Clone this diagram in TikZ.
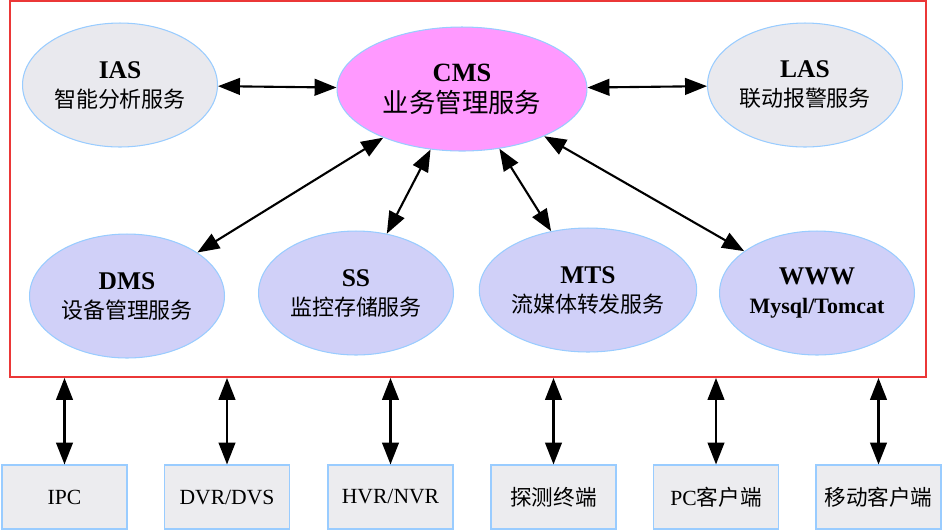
\documentclass[tikz,border=0pt]{standalone}
\usepackage{fontspec}
\setmainfont{Liberation Serif}
\newfontfamily\cjk{Noto Sans CJK SC}
\usepackage{xcolor}
\usepackage{tikz}
\usetikzlibrary{positioning,shapes,arrows.meta,calc}

\definecolor{svcgray}{RGB}{233,233,238}
\definecolor{svcblue}{RGB}{208,208,248}
\definecolor{svcpink}{RGB}{255,153,255}
\definecolor{edgeblue}{RGB}{153,204,255}
\definecolor{framered}{RGB}{235,55,55}
\definecolor{boxgray}{RGB}{236,236,239}

\newcommand{\svclabel}[2]{\textbf{#1}\\{\cjk\fontsize{12.5}{16.5}\selectfont #2}}

\begin{document}
\begin{tikzpicture}[x=0.02cm, y=-0.02cm,
    svc/.style={ellipse, draw=edgeblue, line width=0.6pt, minimum width=3.9cm, minimum height=2.48cm, align=center, inner sep=0pt, font=\fontsize{14.5}{16.5}\selectfont},
    dev/.style={rectangle, draw=edgeblue, fill=boxgray, line width=0.6pt, minimum width=2.5cm, minimum height=1.28cm, inner sep=0pt, font=\fontsize{12.3}{14}\selectfont},
    link/.style={{Triangle[length=12.5pt,width=9.5pt]}-{Triangle[length=12.5pt,width=9.5pt]}, line width=1.2pt}]
        \useasboundingbox (0,0) rectangle (950,529);

        % Frame
        \node[draw=framered, line width=1.1pt, minimum width=18.32cm, minimum height=7.52cm, inner sep=0pt] (sys) at (468,189) {};

        % Services
        \node[svc, fill=svcgray] (ias) at (120,85) {\svclabel{IAS}{智能分析服务}};
        \node[svc, fill=svcpink, minimum width=5cm, font=\fontsize{15}{17.5}\selectfont] (cms) at (462,89) {\textbf{CMS}\\{\cjk 业务管理服务}};
        \node[svc, fill=svcgray] (las) at (805,85) {\svclabel{LAS}{联动报警服务}};
        \node[svc, fill=svcblue] (dms) at (127,296) {\svclabel{DMS}{设备管理服务}};
        \node[svc, fill=svcblue] (ss) at (356,293) {\svclabel{SS}{监控存储服务}};
        \node[svc, fill=svcblue] (mts) at (588,290) {\svclabel{MTS}{流媒体转发服务}};
        \node[svc, fill=svcblue] (www) at (817,293) {\textbf{WWW}\\{\fontsize{12.5}{16.5}\selectfont\bfseries Mysql/Tomcat}};

        % Devices and clients
        \node[dev] (ipc) at (64.5,497) {IPC};
        \node[dev] (dvr) at (227,497) {DVR/DVS};
        \node[dev] (nvr) at (390.5,497) {HVR/NVR};
        \node[dev] (det) at (553.5,497) {\cjk 探测终端};
        \node[dev] (pc) at (716,497) {PC{\cjk 客户端}};
        \node[dev] (mob) at (878.5,497) {\cjk 移动客户端};

        % Links
        \draw[link] (ias) -- (cms);
        \draw[link] (cms) -- (las);
        \draw[link] (cms) -- (dms);
        \draw[link] (cms) -- (ss);
        \draw[link] (cms) -- (mts);
        \draw[link] (cms) -- (www);
        \draw[link] (sys.south -| ipc) -- (ipc.north);
        \draw[link] (sys.south -| dvr) -- (dvr.north);
        \draw[link] (sys.south -| nvr) -- (nvr.north);
        \draw[link] (sys.south -| det) -- (det.north);
        \draw[link] (sys.south -| pc) -- (pc.north);
        \draw[link] (sys.south -| mob) -- (mob.north);
    \end{tikzpicture}
\end{document}
